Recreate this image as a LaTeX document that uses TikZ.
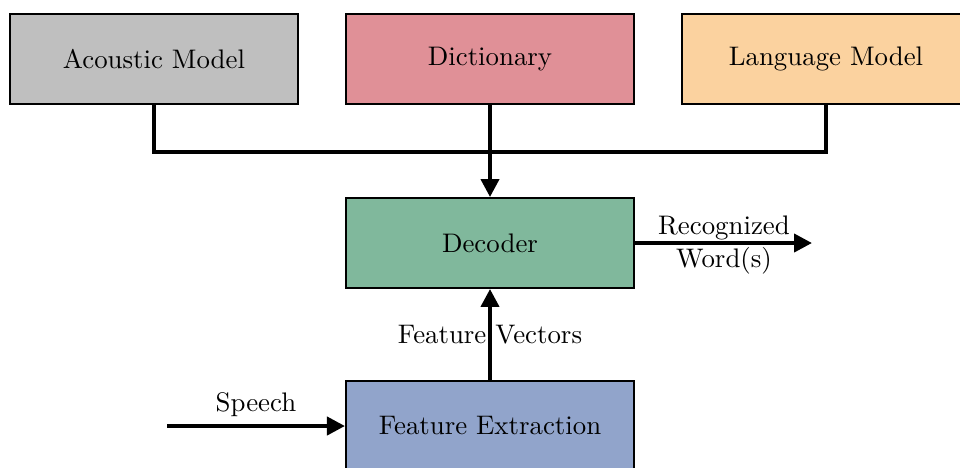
\documentclass[tikz,border=0pt]{standalone}
\usetikzlibrary{arrows.meta}
\definecolor{amgray}{HTML}{BFBFBF}
\definecolor{dictred}{HTML}{E09097}
\definecolor{lmorange}{HTML}{FBD29F}
\definecolor{decgreen}{HTML}{80B89C}
\definecolor{feblue}{HTML}{91A4CB}
\begin{document}
\begin{tikzpicture}[x=0.3725pt,y=-0.3725pt,
  block/.style={draw=black,line width=0.75pt,minimum width=107.3pt,minimum height=33.5pt,inner sep=0pt,anchor=center},
  wire/.style={line width=1.5pt},
  flow/.style={line width=1.5pt,-{Triangle[length=6.7pt,width=6.7pt]}}]
\useasboundingbox (0,0) rectangle (960,467);
\node[block,fill=amgray] (am) at (154,59) {Acoustic Model};
\node[block,fill=dictred] (dict) at (490,59) {Dictionary};
\node[block,fill=lmorange] (lm) at (826,59) {Language Model};
\node[block,fill=decgreen] (dec) at (490,243) {Decoder};
\node[block,fill=feblue] (fe) at (490,426) {Feature Extraction};
\coordinate (speechin) at (167,426);
\coordinate (wordsout) at (812,243);
% bus joining the three knowledge sources
\draw[wire] (am.south) -- ++(0,47) -| (lm.south);
\draw[flow] (dict.south) -- (dec.north);
\draw[flow] (fe.north) -- node[midway] {Feature Vectors} (dec.south);
\draw[flow] (speechin) -- node[midway,above,yshift=-0.5pt] {Speech} (fe.west);
\draw[flow] (dec.east) -- (wordsout);
\node[align=center,inner sep=0pt] (words) at (724,245) {Recognized\\Word(s)};
\end{tikzpicture}
\end{document}
